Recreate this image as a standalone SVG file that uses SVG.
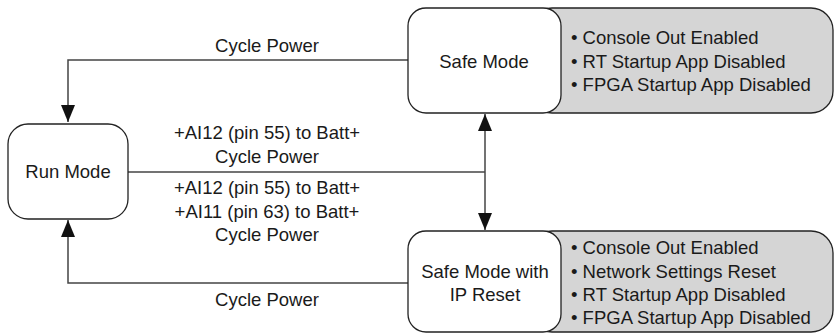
<svg xmlns="http://www.w3.org/2000/svg" width="834" height="333" viewBox="0 0 834 333">
<defs>
<marker id="arr" viewBox="0 0 17 14" refX="17" refY="7" markerWidth="17" markerHeight="14" orient="auto-start-reverse" markerUnits="userSpaceOnUse">
<path d="M0,0 L17,7 L0,14 Z" fill="#111"/>
</marker>
</defs>
<style>
text{font-family:"Liberation Sans",Arial,Helvetica,sans-serif;font-size:18.5px;fill:#1a1a1a}
.c{text-anchor:middle}
.node{fill:#fff;stroke:#222;stroke-width:1.3}
.panel{fill:#d5d5d5;stroke:#222;stroke-width:1.3}
.edge{fill:none;stroke:#444;stroke-width:1.5}
</style>
<rect width="834" height="333" fill="#fff"/>
<g id="connectors">
<path class="edge" d="M408,60 H68 V122" marker-end="url(#arr)"/>
<path class="edge" d="M408,283 H68 V220" marker-end="url(#arr)"/>
<path class="edge" d="M128,172 H485"/>
<path class="edge" d="M485,114 V230" marker-start="url(#arr)" marker-end="url(#arr)"/>
<text class="c" x="267" y="52">Cycle Power</text>
<text class="c" x="267" y="139">+AI12 (pin 55) to Batt+</text>
<text class="c" x="267" y="163">Cycle Power</text>
<text class="c" x="267" y="194">+AI12 (pin 55) to Batt+</text>
<text class="c" x="267" y="218">+AI11 (pin 63) to Batt+</text>
<text class="c" x="267" y="241">Cycle Power</text>
<text class="c" x="267" y="306">Cycle Power</text>
</g>
<g id="run-mode">
<rect class="node" x="8" y="124" width="120" height="95" rx="20"/>
<text class="c" x="68" y="178">Run Mode</text>
</g>
<g id="safe-mode">
<rect class="panel" x="530" y="8" width="303" height="105" rx="22"/>
<rect class="node" x="408" y="8" width="153" height="105" rx="18"/>
<text class="c" x="484" y="68">Safe Mode</text>
<text x="571" y="44">• Console Out Enabled</text>
<text x="571" y="68">• RT Startup App Disabled</text>
<text x="571" y="91">• FPGA Startup App Disabled</text>
</g>
<g id="safe-mode-ip-reset">
<rect class="panel" x="530" y="231" width="303" height="101" rx="22"/>
<rect class="node" x="408" y="231" width="153" height="101" rx="18"/>
<text class="c" x="485" y="278">Safe Mode with</text>
<text class="c" x="485" y="301">IP Reset</text>
<text x="571" y="254">• Console Out Enabled</text>
<text x="571" y="278">• Network Settings Reset</text>
<text x="571" y="301">• RT Startup App Disabled</text>
<text x="571" y="324">• FPGA Startup App Disabled</text>
</g>
</svg>
